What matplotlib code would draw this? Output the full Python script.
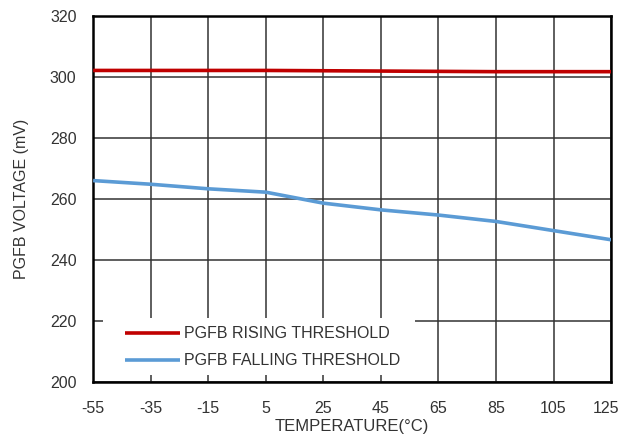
import matplotlib.pyplot as plt
import matplotlib.transforms as mtransforms
from matplotlib.patches import Rectangle

# Valores
temperatura = [-55, -35, -15, 5, 25, 45, 65, 85, 105, 125]
limiar_subida = [302.1, 302.1, 302.1, 302.1, 302.0, 301.9, 301.8, 301.7, 301.7, 301.7]
limiar_descida = [266.0, 264.8, 263.3, 262.2, 258.6, 256.4, 254.7, 252.6, 249.6, 246.6]

plt.rcParams['font.family'] = ['Liberation Sans', 'DejaVu Sans']
plt.rcParams['axes.unicode_minus'] = False

fig = plt.figure(figsize=(6.21, 4.4), dpi=100)
ax = fig.add_axes([0.150, 0.132, 0.834, 0.832])

ax.plot(temperatura, limiar_subida, color='#C00000', linewidth=2.6,
        label='PGFB RISING THRESHOLD', solid_capstyle='butt', zorder=3)
ax.plot(temperatura, limiar_descida, color='#5B9BD5', linewidth=2.6,
        label='PGFB FALLING THRESHOLD', solid_capstyle='butt', zorder=3)

ax.set_xlim(-55, 125)
ax.set_ylim(200, 320)
ax.set_xticks(range(-55, 126, 20))
ax.set_yticks(range(200, 321, 20))
ax.grid(True, color='#333333', linewidth=1.1)
ax.tick_params(length=0, labelsize=11.5, colors='#333333')
ax.tick_params(axis='x', pad=14)
ax.tick_params(axis='y', pad=12)
for s in ax.spines.values():
    s.set_linewidth(1.8)
    s.set_color('black')

# o último rótulo encosta na borda: puxa um pouco para a esquerda
ultimo = ax.get_xticklabels()[-1]
ultimo.set_transform(ultimo.get_transform() +
                     mtransforms.ScaledTranslation(-5 / 100, 0, fig.dpi_scale_trans))

ax.set_xlabel('TEMPERATURE(°C)', fontsize=12, color='#333333', labelpad=2)
ax.set_ylabel('PGFB VOLTAGE (mV)', fontsize=11.5, color='#333333', labelpad=15)

# fundo branco da legenda (cobre a grade)
ax.add_patch(Rectangle((0.019, 0.019), 0.603, 0.156, transform=ax.transAxes,
                       facecolor='white', edgecolor='none', zorder=2.5))

leg = ax.legend(loc='lower left', bbox_to_anchor=(0.062, 0.037), fontsize=11.5,
                frameon=False, handlelength=3.4, handletextpad=0.3,
                labelspacing=0.75, borderpad=0, borderaxespad=0)
for t in leg.get_texts():
    t.set_color('#333333')

plt.savefig('out.png', dpi=100)
